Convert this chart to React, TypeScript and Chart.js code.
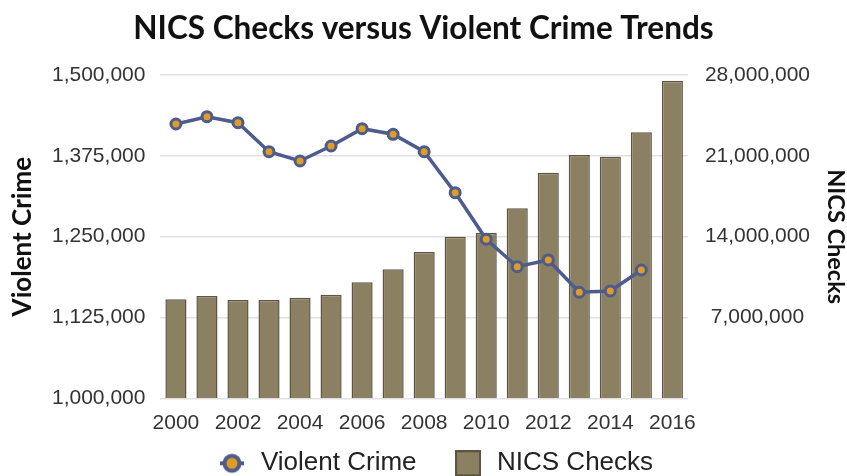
import React, { useEffect, useRef } from "react";
import { Chart, registerables } from "chart.js";

Chart.register(...registerables);

const years = ["2000","2001","2002","2003","2004","2005","2006","2007","2008","2009","2010","2011","2012","2013","2014","2015","2016"];
const violentCrime = [1424200, 1435500, 1426200, 1381400, 1367000, 1390200, 1417000, 1408300, 1381400, 1318000, 1246000, 1203500, 1214000, 1164000, 1166000, 1198400, null];
const nicsChecks = [8570000, 8860000, 8510000, 8510000, 8710000, 8970000, 10050000, 11170000, 12670000, 14000000, 14340000, 16460000, 19540000, 21070000, 20920000, 23040000, 27500000];
const crimeTicks = [1000000, 1125000, 1250000, 1375000, 1500000];
const nicsTicks = [0, 7000000, 14000000, 21000000, 28000000];

const LINE_COLOR = "#4d5c8c";
const POINT_FILL = "#e09d25";
const BAR_FILL = "#8c8062";
const BAR_BORDER = "#5d5542";
const LEGEND_DX = 11;
const LEGEND_DY = -18.5;

function circleMarker(): HTMLCanvasElement {
  const c = document.createElement("canvas");
  c.width = 24;
  c.height = 22;
  const g = c.getContext("2d")!;
  g.strokeStyle = LINE_COLOR;
  g.lineWidth = 4;
  g.beginPath();
  g.moveTo(0, 11);
  g.lineTo(24, 11);
  g.stroke();
  g.fillStyle = LINE_COLOR;
  g.beginPath();
  g.arc(12, 11, 9.5, 0, Math.PI * 2);
  g.fill();
  g.fillStyle = POINT_FILL;
  g.beginPath();
  g.arc(12, 11, 5.5, 0, Math.PI * 2);
  g.fill();
  return c;
}

function squareMarker(): HTMLCanvasElement {
  const c = document.createElement("canvas");
  c.width = 26;
  c.height = 26;
  const g = c.getContext("2d")!;
  g.fillStyle = BAR_FILL;
  g.fillRect(1, 1, 24, 24);
  g.strokeStyle = BAR_BORDER;
  g.lineWidth = 2;
  g.strokeRect(1, 1, 24, 24);
  return c;
}

const fmt = (v: number) => v.toLocaleString("en-US");

export default function App() {
  const ref = useRef<HTMLCanvasElement | null>(null);

  useEffect(() => {
    document.body.style.margin = "0";
    if (!ref.current) return;
    Chart.defaults.font.family = "'Liberation Sans', Arial, sans-serif";
    const markers = [circleMarker(), squareMarker()];

    const legendPlace = {
      id: "legendPlace",
      afterLayout(chart: any) {
        const lg = chart.legend;
        if (lg) {
          lg.left += LEGEND_DX;
          lg.right += LEGEND_DX;
          lg.top += LEGEND_DY;
          lg.bottom += LEGEND_DY;
        }
      },
    };

    const chart = new Chart(ref.current, {
      type: "bar",
      data: {
        labels: years,
        datasets: [
          {
            type: "line",
            label: "Violent Crime",
            data: violentCrime,
            yAxisID: "y",
            borderColor: LINE_COLOR,
            borderWidth: 3.5,
            pointBackgroundColor: POINT_FILL,
            pointBorderColor: LINE_COLOR,
            pointBorderWidth: 3,
            pointRadius: 5,
            tension: 0,
            spanGaps: false,
          } as any,
          {
            type: "bar",
            label: "NICS Checks",
            data: nicsChecks,
            yAxisID: "y1",
            backgroundColor: BAR_FILL,
            borderColor: BAR_BORDER,
            borderWidth: 1.5,
            barPercentage: 0.68,
            categoryPercentage: 1,
          },
        ],
      },
      options: {
        responsive: false,
        animation: false,
        layout: { padding: { top: 0, left: 0, right: 0, bottom: -28.8 } },
        plugins: {
          title: {
            display: true,
            text: "NICS Checks versus Violent Crime Trends",
            color: "#111",
            font: { family: "Lato", weight: "bold", size: 31.5, lineHeight: 1 },
            padding: { top: 13.5, bottom: 30 },
          },
          legend: {
            position: "bottom",
            labels: {
              usePointStyle: true,
              pointStyleWidth: 32,
              padding: 35.5,
              color: "#222",
              font: { size: 26 },
              generateLabels: (ch: any) => {
                const items = Chart.defaults.plugins.legend.labels.generateLabels(ch);
                return items.map((it: any, i: number) => ({ ...it, pointStyle: markers[i] }));
              },
            },
          },
          tooltip: { enabled: false },
        },
        scales: {
          x: {
            grid: { display: false, drawTicks: false },
            border: { display: false },
            afterFit: (scale: any) => {
              scale.height = 35;
            },
            ticks: {
              color: "#333",
              font: { size: 21 },
              padding: 12,
              autoSkip: false,
              maxRotation: 0,
              callback: (_v: any, i: number) => (i % 2 === 0 ? years[i] : ""),
            },
          } as any,
          y: {
            position: "left",
            min: crimeTicks[0],
            max: crimeTicks[crimeTicks.length - 1],
            afterBuildTicks: (scale: any) => {
              scale.ticks = crimeTicks.map((v) => ({ value: v }));
            },
            grid: { color: "#e1e1e1", lineWidth: 1.5, drawTicks: false },
            border: { display: false },
            ticks: {
              color: "#333",
              font: { size: 21 },
              padding: 15,
              callback: (v: any) => fmt(Number(v)),
            },
            title: {
              display: true,
              text: "Violent Crime",
              color: "#111",
              font: { family: "Lato", weight: "bold", size: 26, lineHeight: 1 },
              padding: { top: 10, bottom: 1 },
            },
          } as any,
          y1: {
            position: "right",
            min: nicsTicks[0],
            max: nicsTicks[nicsTicks.length - 1],
            afterBuildTicks: (scale: any) => {
              scale.ticks = nicsTicks.map((v) => ({ value: v }));
            },
            grid: { display: false, drawTicks: false },
            border: { display: false },
            ticks: {
              color: "#333",
              font: { size: 21 },
              padding: 17,
              crossAlign: "center",
              callback: (v: any) => (Number(v) === 0 ? "" : fmt(Number(v))),
            },
            title: {
              display: true,
              text: "NICS Checks",
              color: "#111",
              font: { family: "Lato", weight: "bold", size: 23.5, lineHeight: 1 },
              padding: { top: 0, bottom: -3.5 },
            },
          } as any,
        },
      },
      plugins: [legendPlace],
    });

    return () => chart.destroy();
  }, []);

  return (
    <div style={{ width: 847, height: 476 }}>
      <canvas ref={ref} width={847} height={476} />
    </div>
  );
}
